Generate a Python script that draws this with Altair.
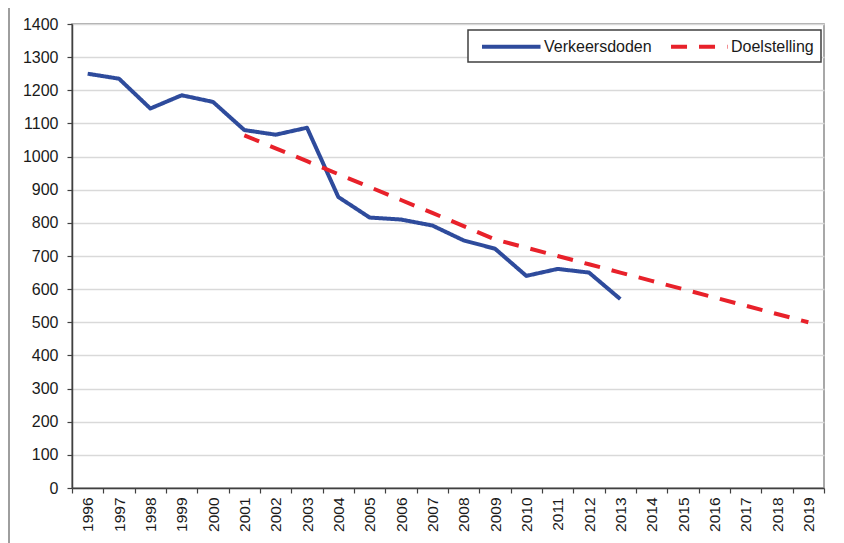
import altair as alt
import pandas as pd

years = [str(y) for y in range(1996, 2020)]

death_years = [str(y) for y in range(1996, 2014)]
deaths = [1250, 1235, 1145, 1185, 1165, 1080, 1066, 1087, 878, 816,
          810, 792, 747, 722, 640, 661, 650, 570]

target_years = [str(y) for y in range(2001, 2020)]
target = [1064, 1025, 986, 947, 908, 869, 830, 790, 750, 725,
          700, 675, 650, 625, 600, 575, 550, 525, 500]

series_names = ["Verkeersdoden", "Doelstelling"]
series_colors = ["#2E4B9C", "#E8212A"]

rows = []
for y, v in zip(death_years, deaths):
    rows.append({"jaar": y, "waarde": v, "reeks": series_names[0]})
for y, v in zip(target_years, target):
    rows.append({"jaar": y, "waarde": v, "reeks": series_names[1]})
df = pd.DataFrame(rows)

FONT = "Liberation Sans"

lines = alt.Chart(df).mark_line(strokeWidth=4, strokeJoin="round", strokeCap="butt").encode(
    x=alt.X("jaar:N", sort=years,
            scale=alt.Scale(domain=years, paddingInner=0, paddingOuter=0),
            axis=alt.Axis(title=None, labelAngle=-90, tickBand="extent", labelPadding=4,
                          labelFontSize=15.5, tickSize=5, grid=False)),
    y=alt.Y("waarde:Q", scale=alt.Scale(domain=[0, 1400], nice=False),
            axis=alt.Axis(title=None, values=list(range(0, 1500, 100)), format="d",
                          labelFontSize=16, tickSize=5, labelPadding=9, grid=True)),
    color=alt.Color("reeks:N", scale=alt.Scale(domain=series_names, range=series_colors),
                    legend=alt.Legend(title=None)),
    strokeDash=alt.StrokeDash("reeks:N", scale=alt.Scale(domain=series_names, range=[[1, 0], [16, 12]]),
                              legend=alt.Legend(title=None)),
    order=alt.Order("jaar:N"),
)

frame = alt.Chart(pd.DataFrame({"f": [0]})).mark_rect(
    fill=None, stroke="#7F7F7F", strokeWidth=1.5
).encode(
    x=alt.value(-63), x2=alt.value(767), y=alt.value(-17), y2=alt.value(530)
)

chart = alt.layer(frame, lines).properties(
    width=752, height=464,
    autosize=alt.AutoSizeParams(type="none"),
    padding={"left": 64, "top": 16, "right": 12, "bottom": 60},
).configure(
    font=FONT,
).configure_view(
    stroke="#8C8C8C", strokeWidth=1.5
).configure_axis(
    labelFont=FONT, labelColor="#1A1A1A", domainColor="#404040", domainWidth=1.5,
    tickColor="#404040", tickWidth=1.2, gridColor="#D9D9D9", gridWidth=1.5,
).configure_legend(
    orient="none", legendX=396, legendY=6, direction="horizontal",
    strokeColor="#404040", strokeWidth=1.5, fillColor="white", padding=7,
    symbolType="M-0.33,0H7.47", symbolSize=225, symbolStrokeWidth=4,
    symbolDashOffset=-2,
    labelFont=FONT, labelFontSize=16, labelColor="#1A1A1A", labelOffset=50,
    columnPadding=9,
)

chart.save("out.html", embed_options={"renderer": "svg", "actions": False})
